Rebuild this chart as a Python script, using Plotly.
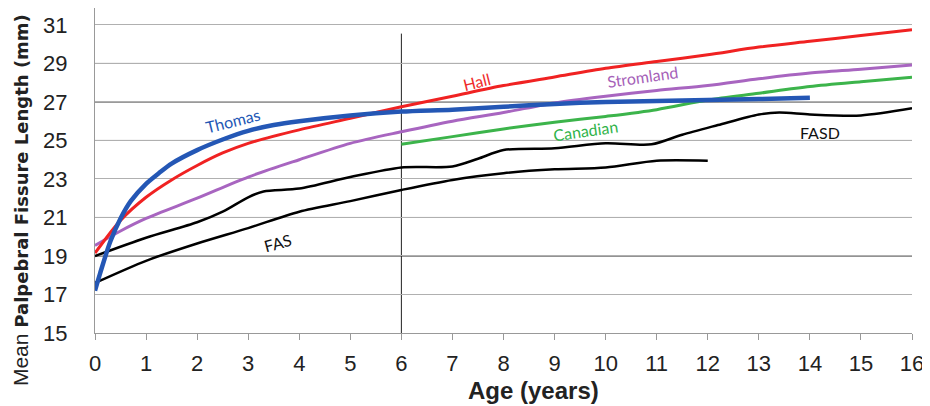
import plotly.graph_objects as go

thomas_age = [0, 0.1, 0.3, 0.5, 0.7, 1, 1.25, 1.5, 2, 2.5, 3, 3.5, 4, 5, 6, 7, 8, 9, 10, 11, 12, 13, 14]
thomas = [17.2, 18.1, 19.75, 20.95, 21.85, 22.75, 23.3, 23.8, 24.5, 25.05, 25.5, 25.8, 26.0, 26.3, 26.5, 26.6, 26.75, 26.9, 27.0, 27.05, 27.1, 27.15, 27.22]

hall_age = [0, 0.5, 1, 1.5, 2, 2.5, 3, 4, 5, 6, 7, 8, 9, 10, 11, 12, 13, 14, 15, 16]
hall = [19.15, 20.85, 22.05, 22.95, 23.7, 24.35, 24.85, 25.55, 26.15, 26.75, 27.3, 27.85, 28.3, 28.75, 29.1, 29.45, 29.85, 30.15, 30.45, 30.75]

strom_age = [0, 0.5, 1, 2, 3, 4, 5, 6, 7, 8, 9, 10, 11, 12, 13, 14, 15, 16]
stromland = [19.55, 20.3, 20.95, 22.0, 23.1, 24.0, 24.85, 25.45, 26.0, 26.45, 26.95, 27.3, 27.6, 27.85, 28.2, 28.5, 28.7, 28.92]

can_age = [6, 7, 8, 9, 10, 11, 12, 13, 14, 15, 16]
canadian = [24.8, 25.2, 25.6, 25.95, 26.25, 26.6, 27.1, 27.45, 27.8, 28.05, 28.28]

fasd_age = [0, 1, 2, 2.5, 3, 3.3, 4, 5, 6, 7, 7.5, 8, 9, 10, 10.9, 11.5, 12.2, 13, 13.4, 14, 15, 16]
fasd = [19.0, 19.95, 20.75, 21.3, 22.05, 22.35, 22.5, 23.1, 23.6, 23.65, 24.05, 24.5, 24.6, 24.85, 24.8, 25.3, 25.8, 26.35, 26.45, 26.35, 26.3, 26.67]

fas_age = [0, 1, 2, 3, 4, 5, 6, 7, 8, 9, 10, 11, 12]
fas = [17.6, 18.75, 19.65, 20.45, 21.3, 21.85, 22.43, 22.95, 23.3, 23.5, 23.6, 23.95, 23.95]

x_ticks = list(range(0, 17))
y_ticks = list(range(15, 32, 2))
dark_grid = [19, 21, 25, 27, 29]

labels = [
    ("Thomas", 2.7, 26.05, "#2457b5", -14),
    ("Hall", 7.48, 28.05, "#ef2b2b", -14),
    ("Stromland", 10.73, 28.3, "#a560b8", -8),
    ("Canadian", 9.6, 25.5, "#2fb34a", -8),
    ("FASD", 14.2, 25.4, "#111111", 0),
    ("FAS", 3.59, 19.68, "#111111", -15),
]

fig = go.Figure()

series = [
    (fas_age, fas, "#000000", 2.5),
    (fasd_age, fasd, "#000000", 2.5),
    (can_age, canadian, "#3cb44b", 3),
    (strom_age, stromland, "#a865c0", 3),
    (hall_age, hall, "#f02222", 3),
    (thomas_age, thomas, "#2457b5", 4.5),
]
for xs, ys, col, w in series:
    fig.add_trace(go.Scatter(x=xs, y=ys, mode="lines",
                             line=dict(color=col, width=w, shape="spline", smoothing=0.8),
                             showlegend=False, hoverinfo="skip"))

for g in dark_grid:
    fig.add_shape(type="line", x0=0, x1=16, y0=g, y1=g, xref="x", yref="y",
                  line=dict(color="#222222", width=1), layer="below")
fig.add_shape(type="line", x0=6, x1=6, y0=15, y1=30.55, xref="x", yref="y",
              line=dict(color="#222222", width=1), layer="below")

for txt, x, y, col, ang in labels:
    fig.add_annotation(x=x, y=y, text=txt, showarrow=False, textangle=ang,
                       font=dict(family="Lato, Open Sans, sans-serif", size=16, color=col))

# axis titles as annotations
fig.add_annotation(xref="paper", yref="paper", x=0, y=0.409, xshift=-75,
                   xanchor="center", yanchor="middle", textangle=-90, showarrow=False,
                   text="<span style='font-family:Liberation Sans;font-size:21px'>Mean </span>"
                        "<span style='font-family:DejaVu Sans;font-size:18px'><b>Palpebral Fissure Length (mm)</b></span>",
                   font=dict(color="#222222"))
fig.add_annotation(xref="paper", yref="paper", x=0.537, y=0, yshift=-57,
                   xanchor="center", yanchor="middle", showarrow=False,
                   text="<b>Age (years)</b>",
                   font=dict(family="Liberation Sans, Arial, sans-serif", size=24, color="#222222"))

fig.update_layout(
    width=922, height=398,
    margin=dict(l=87, r=18, t=0, b=73, autoexpand=False),
    paper_bgcolor="white", plot_bgcolor="white",
    font=dict(family="Liberation Sans, Arial, sans-serif", color="#222222"),
)
fig.update_xaxes(range=[0, 16], tickvals=x_ticks, showgrid=False, automargin=False,
                 showline=True, linecolor="#999999", linewidth=1,
                 ticks="outside", ticklen=6, tickcolor="#999999",
                 ticklabelstandoff=5,
                 tickfont=dict(size=22, color="#222222"),
                 zeroline=False)
fig.update_yaxes(range=[15, 31.88], tickvals=y_ticks, showgrid=True, gridcolor="#b0b0b0", gridwidth=1,
                 automargin=False,
                 showline=True, linecolor="#999999", linewidth=1,
                 ticks="", ticklabelstandoff=22,
                 tickfont=dict(size=22, color="#222222"),
                 zeroline=False)

fig.write_html("out.html")
